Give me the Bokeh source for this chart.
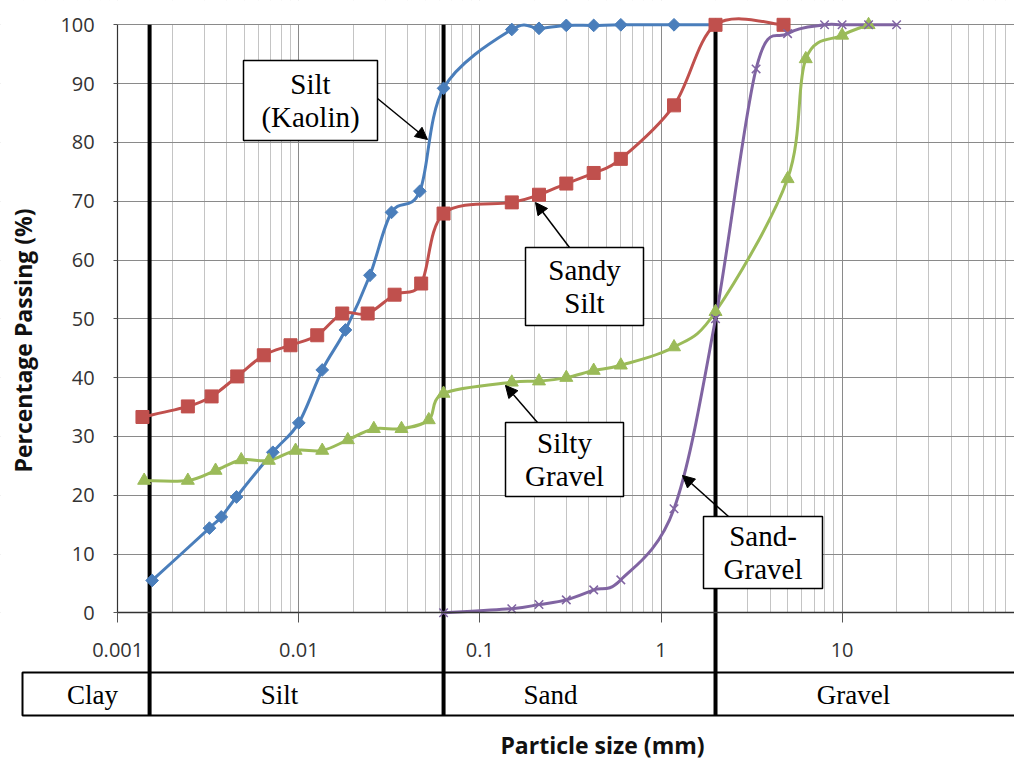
import math
import numpy as np
from bokeh.plotting import figure
from bokeh.models import Range1d, FixedTicker, Label, Arrow, NormalHead
from bokeh.embed import file_html
from bokeh.resources import INLINE
from bokeh.core.properties import value

# ---------------- data ----------------
kaolin_size = [0.00155, 0.00321, 0.00373, 0.00453, 0.00719, 0.0100, 0.01347, 0.0181,
               0.0247, 0.0325, 0.0466, 0.063, 0.15, 0.212, 0.3, 0.425, 0.6, 1.18, 2.0]
kaolin_pass = [5.5, 14.4, 16.3, 19.7, 27.3, 32.3, 41.3, 48.1,
               57.4, 68.1, 71.7, 89.2, 99.2, 99.4, 99.9, 99.9, 100, 100, 100]

sandy_size = [0.00137, 0.00244, 0.0033, 0.00457, 0.00641, 0.0090, 0.01264, 0.01737,
              0.024, 0.0338, 0.0474, 0.063, 0.15, 0.212, 0.3, 0.425, 0.6, 1.18, 2.0, 4.75]
sandy_pass = [33.3, 35.1, 36.8, 40.2, 43.8, 45.5, 47.2, 50.9,
              50.9, 54.1, 56.0, 67.9, 69.8, 71.1, 73.0, 74.8, 77.2, 86.3, 100, 100]

silty_size = [0.0014, 0.00244, 0.00347, 0.00481, 0.00683, 0.0096, 0.01347, 0.01865,
              0.02596, 0.0369, 0.0522, 0.063, 0.15, 0.212, 0.3, 0.425, 0.6, 1.18, 2.0,
              5.0, 6.3, 10.0, 14.0]
silty_pass = [22.5, 22.5, 24.2, 26.0, 25.9, 27.6, 27.6, 29.4,
              31.3, 31.3, 32.8, 37.3, 39.2, 39.4, 40.0, 41.2, 42.1, 45.2, 51.2,
              73.8, 94.2, 98.2, 100]

sgrav_size = [0.063, 0.15, 0.212, 0.3, 0.425, 0.6, 1.18, 2.0, 3.35, 5.0, 8.0, 10.0, 14.0, 20.0]
sgrav_pass = [0.0, 0.7, 1.4, 2.2, 3.9, 5.6, 17.7, 50.0, 92.5, 98.5, 100, 100, 100, 100]

boundary_sizes = [0.0015, 0.063, 2.0]
class_names = ["Clay", "Silt", "Sand", "Gravel"]

x_ticks = [0.001, 0.01, 0.1, 1, 10]
x_tick_labels = ["0.001", "0.01", "0.1", "1", "10"]
y_ticks = [0, 10, 20, 30, 40, 50, 60, 70, 80, 90, 100]

callout_texts = ["Silt\n(Kaolin)", "Sandy\nSilt", "Silty\nGravel", "Sand-\nGravel"]

# ---------------- layout (pixels of the 1014x762 page) ----------------
W, H = 1014, 762
PX_0001 = 117.2      # pixel of 0.001 mm
PX_DEC = 181.1       # pixels per decade
PY_0 = 612.3         # pixel of 0 %
PX_PER_PCT = 5.88


def dx(px):
    return 10 ** (-3 + (px - PX_0001) / PX_DEC)


def dy(py):
    return (PY_0 - py) / PX_PER_PCT


p = figure(width=W, height=H, x_axis_type="log",
           x_range=Range1d(dx(0), dx(W)), y_range=Range1d(dy(H), dy(0)),
           output_backend="svg", toolbar_location=None, min_border=0,
           outline_line_color=None, background_fill_color="white",
           border_fill_color="white")

TICK_FONT = "Open Sans"

# axes at fixed data positions
minor = [m * 10.0 ** e for e in range(-4, 3) for m in range(2, 10)]
xa = p.xaxis[0]
xa.fixed_location = 0
xa.bounds = (0.001, dx(W + 20))
xa.ticker = FixedTicker(ticks=x_ticks, minor_ticks=minor)
xa.major_label_overrides = {t: l for t, l in zip(x_ticks, x_tick_labels)}
xa.axis_line_color = "#333333"
xa.axis_line_width = 1.5
xa.major_tick_line_color = "#555555"
xa.major_tick_out = 10
xa.major_tick_in = 0
xa.minor_tick_out = 0
xa.minor_tick_in = 0
xa.major_label_standoff = 20
xa.major_label_text_font = TICK_FONT
xa.major_label_text_font_size = "20px"
xa.major_label_text_color = "#333333"

ya = p.yaxis[0]
ya.fixed_location = 0.001
ya.bounds = (0, 100)
ya.ticker = FixedTicker(ticks=y_ticks)
ya.axis_line_color = "#333333"
ya.axis_line_width = 1.2
ya.major_tick_line_color = "#555555"
ya.major_tick_out = 4
ya.major_tick_in = 0
ya.minor_tick_out = 0
ya.minor_tick_in = 0
ya.major_label_standoff = 19
ya.major_label_text_font = TICK_FONT
ya.major_label_text_font_size = "20px"
ya.major_label_text_color = "#333333"

p.xgrid.grid_line_color = "#8a8a8a"
p.xgrid.minor_grid_line_color = "#c4c4c4"
p.ygrid.grid_line_color = "#8a8a8a"

# white masks so the grid only shows inside the plot area
mask = dict(fill_color="white", line_color=None)
p.quad(left=dx(-20), right=dx(W + 20), bottom=dy(H + 20), top=0, **mask)
p.quad(left=dx(-20), right=dx(W + 20), bottom=dy(PY_0 - 100 * PX_PER_PCT - 0.8), top=dy(-20), **mask)
p.quad(left=dx(-20), right=0.001, bottom=dy(H + 20), top=dy(-20), **mask)

# classification table under the axis
p.quad(left=dx(22), right=dx(W + 30), top=dy(672), bottom=dy(715),
       fill_color="white", line_color="black", line_width=2)
p.text(x=[dx(v) for v in (92, 279, 550, 853)], y=[dy(694)] * 4, text=class_names,
       text_font=value("Liberation Serif"), text_font_size="27px",
       text_align="center", text_baseline="middle", text_color="black")

# thick boundary lines
p.segment(x0=boundary_sizes, y0=[dy(715)] * 3, x1=boundary_sizes, y1=[100] * 3,
          line_color="black", line_width=4)


def smooth(xs, ys):
    lx = np.log10(np.array(xs, dtype=float))
    y = np.array(ys, dtype=float)
    n = len(lx)
    out = {k: [] for k in ("x0", "y0", "x1", "y1", "cx0", "cy0", "cx1", "cy1")}
    for i in range(n - 1):
        a = i - 1 if i > 0 else i
        b = i + 2 if i + 2 < n else i + 1
        out["x0"].append(10 ** lx[i]); out["y0"].append(y[i])
        out["x1"].append(10 ** lx[i + 1]); out["y1"].append(y[i + 1])
        out["cx0"].append(10 ** (lx[i] + (lx[i + 1] - lx[a]) / 6))
        out["cy0"].append(y[i] + (y[i + 1] - y[a]) / 6)
        out["cx1"].append(10 ** (lx[i + 1] - (lx[b] - lx[i]) / 6))
        out["cy1"].append(y[i + 1] - (y[b] - y[i]) / 6)
    return out


series = [
    (kaolin_size, kaolin_pass, "#4A7EBB", "square", 9, math.pi / 4),
    (sandy_size, sandy_pass, "#C0504D", "square", 13, 0),
    (silty_size, silty_pass, "#9BBB59", "triangle", 13, 0),
    (sgrav_size, sgrav_pass, "#8064A2", "x", 12, 0),
]
for xs, ys, col, mk, sz, ang in series:
    p.bezier(line_color=col, line_width=3, **smooth(xs, ys))
for xs, ys, col, mk, sz, ang in series:
    if mk == "x":
        p.scatter(xs, ys, marker=mk, size=sz, angle=ang, line_color=col, line_width=1.5)
    else:
        p.scatter(xs, ys, marker=mk, size=sz, angle=ang, fill_color=col, line_color=col)

# callout boxes and texts
box_cx = [310, 584, 564, 762.5]
box_cy = [100, 286, 459, 552]
box_w = [134, 118, 118, 119]
box_h = [80, 78, 74, 72]
p.rect(x=[dx(v) for v in box_cx], y=[dy(v) for v in box_cy], width=box_w, height=box_h,
       width_units="screen", height_units="screen",
       fill_color="white", line_color="black", line_width=1.5)
p.text(x=[dx(v) for v in box_cx], y=[dy(v) for v in box_cy], text=callout_texts,
       text_font=value("Liberation Serif"), text_font_size="29px", text_line_height=1.05,
       text_align="center", text_baseline="middle", text_color="black")

# axis titles
p.add_layout(Label(x=dx(22), y=dy(340), text="Percentage Passing (%)", angle=math.pi / 2,
                   text_align="center", text_baseline="middle", text_font="Open Sans",
                   text_font_style="bold", text_font_size="23px", text_color="#111111"))
p.add_layout(Label(x=dx(602), y=dy(744), text="Particle size (mm)",
                   text_align="center", text_baseline="middle", text_font="Open Sans",
                   text_font_style="bold", text_font_size="23px", text_color="#111111"))

arrows = [((377, 98), (427, 139)), ((569, 247), (535, 202)),
          ((537, 422), (505, 385)), ((728, 516), (682, 475))]
for (sx, sy), (ex, ey) in arrows:
    p.add_layout(Arrow(x_start=dx(sx), y_start=dy(sy), x_end=dx(ex), y_end=dy(ey),
                       line_color="black", line_width=1.5,
                       end=NormalHead(size=12, fill_color="black", line_color="black")))

open("out.html", "w").write(file_html(p, INLINE))
